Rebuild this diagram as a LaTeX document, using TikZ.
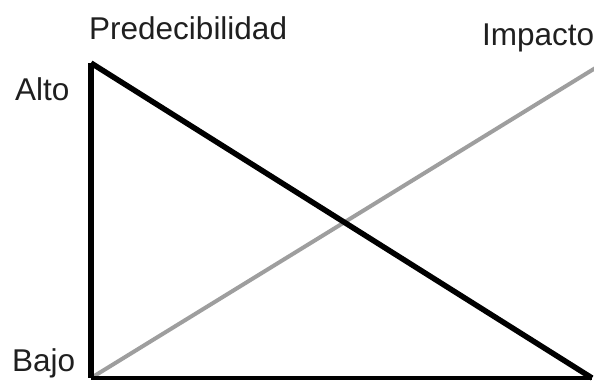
\documentclass[tikz,border=0pt]{standalone}
\usepackage{fontspec}
\setmainfont{Liberation Sans}
\usetikzlibrary{positioning}
\tikzset{lbl/.style={font=\fontsize{31.5}{36}\selectfont,text=black!88,inner sep=0pt,anchor=base west},
axisline/.style={line width=5.5pt,draw=black},
trendline/.style={line width=4pt,draw=black!38}}

\begin{document}
\begin{tikzpicture}[x=1pt,y=-1pt]
\useasboundingbox (0,0) rectangle (594,380);
\coordinate (top) at (91,63);
\coordinate (orig) at (91,378);
\coordinate (endx) at (592,378);
\coordinate (hi) at (597,67);
\draw[trendline] (orig)--(hi);
\draw[axisline] (top)--(orig);
\draw[axisline,line width=4pt] (orig)--(endx);
\draw[axisline] (top)--(endx);
\node[lbl] (pred) at (89,39){Predecibilidad};
\node[lbl] (imp) at (482,45){Impacto};
\node[lbl] (alto) at (15,100){Alto};
\node[lbl] (bajo) at (12,371){Bajo};
\end{tikzpicture}
\end{document}
